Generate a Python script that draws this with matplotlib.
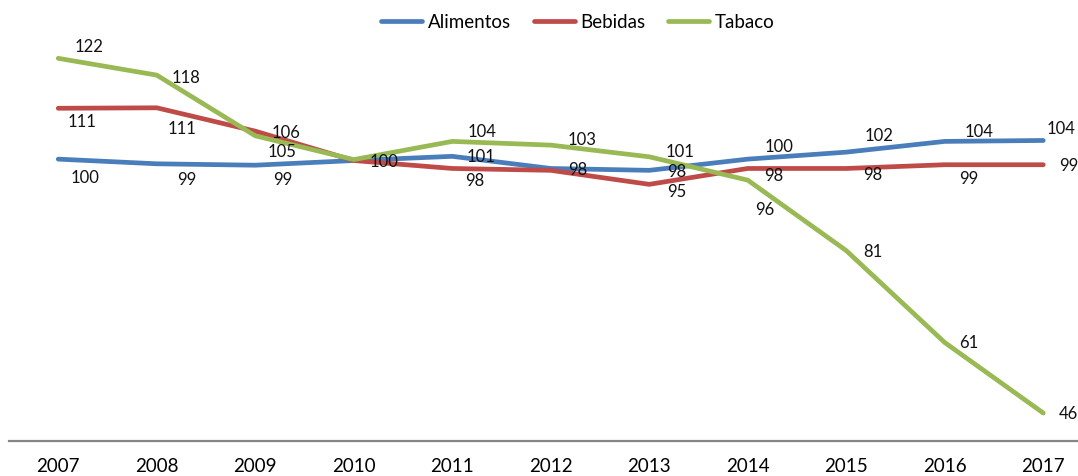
import matplotlib.pyplot as plt
import numpy as np

years = [2007, 2008, 2009, 2010, 2011, 2012, 2013, 2014, 2015, 2016, 2017]
alimentos = [100.4, 99.4, 99.1, 100.1, 101.0, 98.4, 98.0, 100.4, 101.9, 104.2, 104.4]
bebidas = [111.3, 111.4, 106.4, 100.1, 98.4, 98.0, 95.0, 98.4, 98.4, 99.2, 99.2]
tabaco = [122.0, 118.4, 105.4, 100.3, 104.2, 103.4, 100.9, 95.9, 80.8, 61.1, 46.0]

# label offsets in pixels (dx right, dy down), None = label hidden behind another
off_alim = [(27, 19), (30, 16), (28, 15), (30, 1), (29, 1), None, (27, 2),
            (31, -12), (33, -16), (34, -9), (18, -11)]
off_beb = [(24, 14), (25, 21), (31, 2), None, (23, 13), (27, 0), (27, 8),
           (26, 8), (27, 7), (24, 14), (25, 1)]
off_tab = [(31, -11), (29, 3), (27, 16), None, (30, -9), (31, -5), (31, -5),
           (17, 30), (27, 1), (24, 0), (25, 1)]

plt.rcParams['font.family'] = ['Lato', 'DejaVu Sans']

fig = plt.figure(figsize=(10.78, 4.76), dpi=100)
ax = fig.add_axes([9 / 1078, 35 / 476, 1083.5 / 1078, 420 / 476])

series = [("Alimentos", alimentos, "#4A7EBB", off_alim),
          ("Bebidas", bebidas, "#BE4B48", off_beb),
          ("Tabaco", tabaco, "#98B954", off_tab)]

for name, vals, col, offs in series:
    ax.plot(years, vals, color=col, lw=3.4, label=name,
            solid_joinstyle='round', solid_capstyle='round')
for name, vals, col, offs in series:
    for x, v, o in zip(years, vals, offs):
        if o is None:
            continue
        ax.annotate("%d" % round(v), (x, v), xytext=(o[0], -o[1]),
                    textcoords='offset pixels', ha='center', va='center',
                    fontsize=12, color='#111111')

ax.set_xlim(2006.5, 2017.5)
ax.set_ylim(40, 130)
ax.set_xticks(years)
ax.set_yticks([])
for s in ['top', 'left', 'right']:
    ax.spines[s].set_visible(False)
ax.spines['bottom'].set_color('#868686')
ax.spines['bottom'].set_linewidth(1.6)
ax.tick_params(axis='x', length=0, pad=12, labelsize=13.5, colors='#000000')

fig.legend(loc='center', bbox_to_anchor=(578 / 1078, 1 - 22 / 476), ncol=3,
           frameon=False, fontsize=13.5, handlelength=2.2, handletextpad=0.3,
           columnspacing=1.2)

fig.savefig("out.png", dpi=100)
